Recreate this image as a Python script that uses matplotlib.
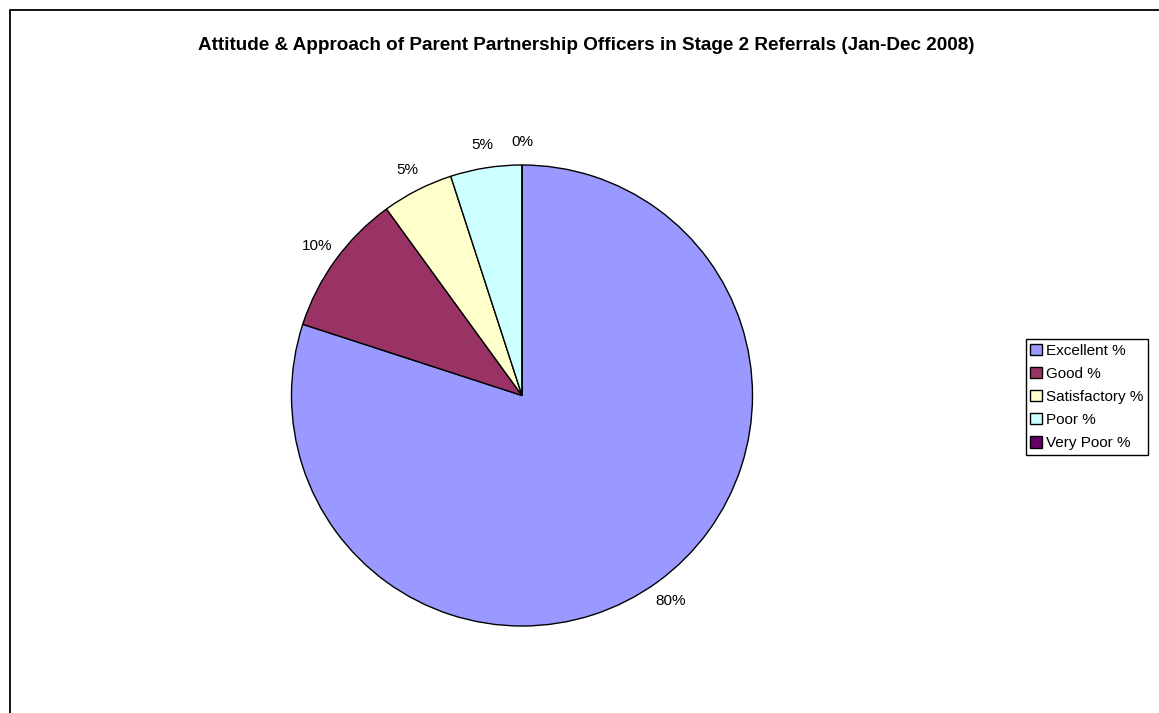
import matplotlib
matplotlib.use("Agg")
import matplotlib.pyplot as plt
from matplotlib.patches import Rectangle

plt.rcParams['font.family'] = ['Liberation Sans', 'DejaVu Sans']

# данные диаграммы
categories = ['Excellent %', 'Good %', 'Satisfactory %', 'Poor %', 'Very Poor %']
values = [80, 10, 5, 5, 0]
colors = ['#9999FF', '#993366', '#FFFFCC', '#CCFFFF', '#660066']
title = 'Attitude & Approach of Parent Partnership Officers in Stage 2 Referrals (Jan-Dec 2008)'

W, H = 1159, 713
fig = plt.figure(figsize=(W / 100, H / 100), dpi=100)
fig.patch.set_facecolor('white')

# рамка области диаграммы (обрезана справа и снизу)
fig.patches.append(Rectangle((10 / W, -0.1), 1.2, 1.1 - 10 / H, transform=fig.transFigure,
                             fill=False, edgecolor='black', linewidth=1.3, zorder=0))

ax = fig.add_axes([0, 0, 1, 1])

wedges, texts, autotexts = ax.pie(
    values, colors=colors, startangle=90, counterclock=False,
    center=(522, H - 395.5), radius=230.5,
    autopct=lambda p: f'{p:.0f}%', pctdistance=1.1,
    wedgeprops=dict(edgecolor='black', linewidth=1.0),
    textprops=dict(fontsize=11, color='black'))

# пиксельные координаты после pie (pie сбрасывает пределы)
ax.set_xlim(0, W)
ax.set_ylim(0, H)
ax.set_aspect('equal')
ax.axis('off')

fig.text(586 / W, 1 - 46 / H, title, ha='center', va='center',
         fontsize=13.6, fontweight='bold')

leg = fig.legend(wedges, categories, loc='center',
                 bbox_to_anchor=(1087 / W, 1 - 397 / H),
                 fontsize=11, frameon=True, fancybox=False, shadow=False,
                 framealpha=1, facecolor='white',
                 handlelength=0.75, handleheight=0.75, handletextpad=0.3,
                 labelspacing=0.6, borderpad=0.3, borderaxespad=0)
leg.get_frame().set_edgecolor('black')
leg.get_frame().set_linewidth(1.0)

fig.savefig('out.png', dpi=100)
